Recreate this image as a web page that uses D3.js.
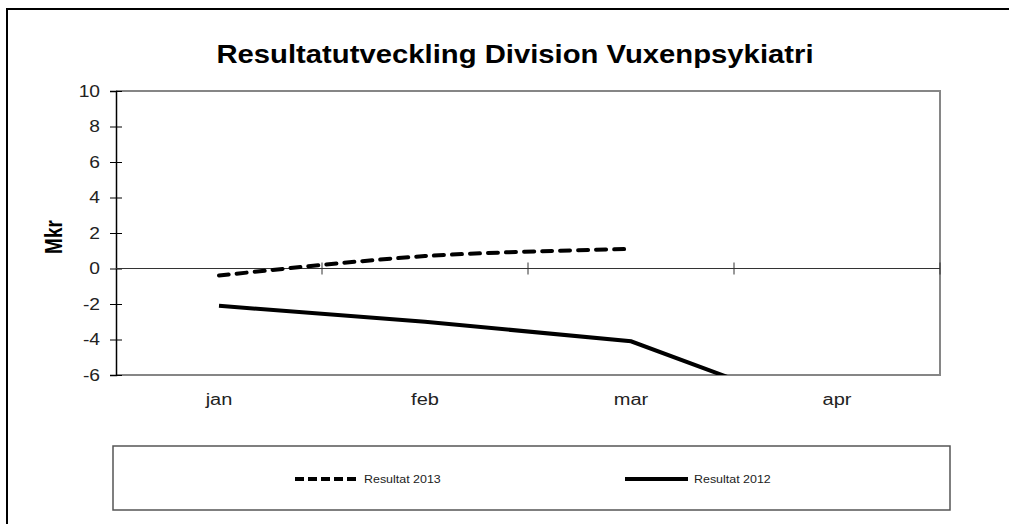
<!DOCTYPE html>
<html>
<head>
<meta charset="utf-8">
<script src="https://cdn.jsdelivr.net/npm/d3@7"></script>
<style>
  body { margin: 0; background: #fff; }
  svg { display: block; font-family: "Liberation Sans", Arial, sans-serif; }
</style>
</head>
<body>
<svg id="chart" width="1009" height="524"></svg>
<script>
var months = ["jan", "feb", "mar", "apr"];
var res2013 = [-0.4, 0.7, 1.1, null];
var res2012 = [-2.1, -3.0, -4.1, -8.4];
var yTicks = [-6, -4, -2, 0, 2, 4, 6, 8, 10];

var svg = d3.select("#chart");
var margin = { top: 91, right: 69, bottom: 149, left: 116 },
    width = 1009 - margin.left - margin.right,
    height = 524 - margin.top - margin.bottom;

// the source picture is a bit wider than tall, so text is stretched sideways
function stretch(sel, k) {
  sel.each(function() {
    var len = this.getComputedTextLength();
    d3.select(this)
      .attr("textLength", len * k)
      .attr("lengthAdjust", "spacingAndGlyphs");
  });
}

// outer frame
svg.append("rect")
    .attr("x", 7).attr("y", 9)
    .attr("width", 1012).attr("height", 530)
    .attr("fill", "none").attr("stroke", "#000").attr("stroke-width", 2);

svg.append("text")
    .attr("x", 515).attr("y", 63)
    .attr("text-anchor", "middle")
    .style("font-size", "25px").style("font-weight", "bold")
    .text("Resultatutveckling Division Vuxenpsykiatri")
    .call(stretch, 1.17);

var x = d3.scaleBand().domain(months).range([0, width]).padding(0),
    y = d3.scaleLinear().domain([-6, 10]).range([height, 0]);

var g = svg.append("g")
    .attr("transform", "translate(" + margin.left + "," + margin.top + ")");

g.append("defs").append("clipPath").attr("id", "plot-clip")
  .append("rect").attr("width", width).attr("height", height);

// plot border (top, right, bottom)
g.append("path")
    .attr("d", "M0,0H" + width + "V" + height + "H0")
    .attr("fill", "none").attr("stroke", "#868686").attr("stroke-width", 2);

// y axis
var yAxis = g.append("g")
    .attr("class", "axis axis--y")
    .call(d3.axisLeft(y).tickValues(yTicks).tickSize(6).tickPadding(10)
      .tickFormat(function(d) { return String(d); }));
yAxis.select(".domain").attr("stroke", "#000").attr("stroke-width", 1.5);
yAxis.selectAll(".tick line").attr("x1", 6).attr("stroke", "#000");
yAxis.selectAll("text")
    .style("font-size", "16px").attr("fill", "#222")
    .call(stretch, 1.2);

svg.append("text")
    .attr("transform", "translate(54,237) rotate(-90) scale(1,1.25)")
    .attr("text-anchor", "middle").attr("dy", "0.35em")
    .style("font-size", "19px").style("font-weight", "bold")
    .text("Mkr");

// zero line with category ticks
g.append("line")
    .attr("x1", 0).attr("x2", width)
    .attr("y1", y(0)).attr("y2", y(0))
    .attr("stroke", "#333").attr("stroke-width", 1);
g.selectAll(".xtick")
  .data(months)
  .enter().append("line")
    .attr("class", "xtick")
    .attr("x1", function(d) { return x(d) + x.bandwidth(); })
    .attr("x2", function(d) { return x(d) + x.bandwidth(); })
    .attr("y1", y(0) - 6).attr("y2", y(0) + 6)
    .attr("stroke", "#333");

// category labels
var xAxis = g.append("g")
    .attr("transform", "translate(0," + height + ")")
    .call(d3.axisBottom(x).tickSize(0).tickPadding(19));
xAxis.select(".domain").remove();
xAxis.selectAll("text")
    .style("font-size", "16px").attr("fill", "#222")
    .call(stretch, 1.25);

// series
var lines = g.append("g").attr("clip-path", "url(#plot-clip)");

var line2013 = d3.line()
    .defined(function(d) { return d != null; })
    .x(function(d, i) { return x(months[i]) + x.bandwidth() / 2; })
    .y(function(d) { return y(d); })
    .curve(d3.curveCatmullRom);

var line2012 = d3.line()
    .x(function(d, i) { return x(months[i]) + x.bandwidth() / 2; })
    .y(function(d) { return y(d); });

lines.append("path")
    .datum(res2013)
    .attr("d", line2013)
    .attr("fill", "none").attr("stroke", "#000")
    .attr("stroke-width", 4).attr("stroke-linecap", "round")
    .attr("stroke-dasharray", "10,8");

lines.append("path")
    .datum(res2012)
    .attr("d", line2012)
    .attr("fill", "none").attr("stroke", "#000")
    .attr("stroke-width", 4);

// legend
svg.append("rect")
    .attr("x", 113).attr("y", 446)
    .attr("width", 837).attr("height", 64)
    .attr("fill", "#fff").attr("stroke", "#555").attr("stroke-width", 1.5);

var legend = [
  { name: "Resultat 2013", x: 295, dash: "9,4" },
  { name: "Resultat 2012", x: 625, dash: null }
];
var lg = svg.selectAll(".legend")
  .data(legend)
  .enter().append("g")
    .attr("class", "legend")
    .attr("transform", function(d) { return "translate(" + d.x + ",479)"; });
lg.append("line")
    .attr("x1", 0).attr("x2", 63)
    .attr("stroke", "#000").attr("stroke-width", 4)
    .attr("stroke-dasharray", function(d) { return d.dash; });
lg.append("text")
    .attr("x", 69).attr("dy", "0.35em")
    .style("font-size", "11px").attr("fill", "#222")
    .text(function(d) { return d.name; })
    .call(stretch, 1.13);
</script>
</body>
</html>
